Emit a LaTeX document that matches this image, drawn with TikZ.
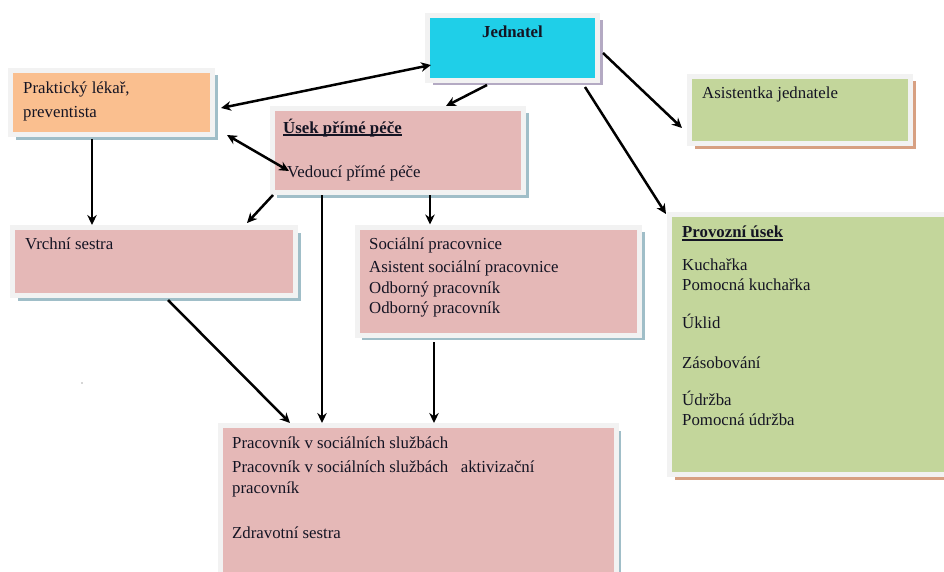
\documentclass[tikz,border=0pt]{standalone}
\usepackage{fontspec}
\setmainfont{Liberation Serif}
\usetikzlibrary{arrows.meta,calc,shadows}
\definecolor{cyanf}{RGB}{31,207,232}
\definecolor{orangef}{RGB}{250,191,143}
\definecolor{pinkf}{RGB}{229,184,183}
\definecolor{greenf}{RGB}{195,214,155}
\definecolor{bordc}{RGB}{242,242,242}
\definecolor{shblue}{RGB}{160,190,200}
\definecolor{shpurple}{RGB}{180,170,195}
\definecolor{shtan}{RGB}{215,160,130}
\definecolor{txtc}{RGB}{20,20,35}
\newcommand\hul[1]{\setbox0\hbox{#1}\rlap{\rule[-3pt]{\wd0}{2pt}}\box0}
\begin{document}
\begin{tikzpicture}[x=1pt,y=-1pt,
  orgbox/.style 2 args={draw=bordc, line width=5pt, fill=#1, inner sep=0pt,
     drop shadow={shadow xshift=5pt, shadow yshift=-5pt, fill=#2, opacity=1}},
  txt/.style={anchor=base west, inner sep=0pt, text=txtc, font=\fontsize{16.8}{20}\selectfont},
  arr/.style={line width=2.5pt, -{Stealth[length=10pt,width=9.5pt]}},
  darr/.style={line width=2.5pt, {Stealth[length=10pt,width=9.5pt]}-{Stealth[length=10pt,width=9.5pt]}}]
\useasboundingbox (0,0) rectangle (944,572);
\clip (0,0) rectangle (944,572);

% boxes
\node[orgbox={cyanf}{shpurple}, minimum width=170pt, minimum height=65pt] (jed) at (512.5,48) {};
\node[orgbox={orangef}{shblue}, minimum width=202pt, minimum height=64.5pt] (pl) at (111.5,102.75) {};
\node[orgbox={pinkf}{shblue}, minimum width=251.5pt, minimum height=84pt] (up) at (397.75,150.5) {};
\node[orgbox={greenf}{shtan}, minimum width=221pt, minimum height=67.5pt] (as) at (800,110.25) {};
\node[orgbox={greenf}{shtan}, minimum width=280.5pt, minimum height=260pt] (pr) at (809.75,344.5) {};
\node[orgbox={pinkf}{shblue}, minimum width=282.5pt, minimum height=108pt] (so) at (498.25,281) {};
\node[orgbox={pinkf}{shblue}, minimum width=396pt, minimum height=154.5pt] (pc) at (418,502.75) {};
\node[orgbox={pinkf}{shblue}, minimum width=283pt, minimum height=68pt] (vs) at (154,261.5) {};

% texts
\node[txt, anchor=base] (tjed) at (512.5,37.5) {\bfseries Jednatel};
\node[txt] (tpl1) at (23,93.5) {Praktický lékař,};
\node[txt] (tpl2) at (23,117.5) {preventista};
\node[txt] (tup1) at (283,133.5) {\bfseries\hul{Úsek přímé péče}};
\node[txt] (tup2) at (287,177.5) {Vedoucí přímé péče};
\node[txt] (tas) at (702,98.5) {Asistentka jednatele};
\node[txt] (tpr1) at (682,237.5) {\bfseries\hul{Provozní úsek}};
\node[txt] (tpr2) at (682,270.5) {Kuchařka};
\node[txt] (tpr3) at (682,290.5) {Pomocná kuchařka};
\node[txt] (tpr4) at (682,328.5) {Úklid};
\node[txt] (tpr5) at (682,368.5) {Zásobování};
\node[txt] (tpr6) at (682,405.5) {Údržba};
\node[txt] (tpr7) at (682,425.5) {Pomocná údržba};
\node[txt] (tso1) at (369,249.5) {Sociální pracovnice};
\node[txt] (tso2) at (369,272.5) {Asistent sociální pracovnice};
\node[txt] (tso3) at (369,293.5) {Odborný pracovník};
\node[txt] (tso4) at (369,313.5) {Odborný pracovník};
\node[txt] (tvs) at (25,249.5) {Vrchní sestra};
\node[txt] (tpc1) at (232,448.5) {Pracovník v sociálních službách};
\node[txt] (tpc2) at (232,472.5) {Pracovník v sociálních službách\ \ \ aktivizační};
\node[txt] (tpc3) at (232,493.5) {pracovník};
\node[txt] (tpc4) at (232,538.5) {Zdravotní sestra};

% stray dot
\fill[black!70] (82,383) circle (0.6);

% connectors
\draw[darr] ($(pl.north east)+(6,40)$) -- ($(jed.north west)+(6,52)$);
\draw[arr] ($(jed.south west)+(62,2)$) -- ($(up.north west)+(176.5,0)$);
\draw[darr] ($(pl.south east)+(12,-2.5)$) -- ($(up.north west)+(19.5,65)$);
\draw[arr] ($(jed.north east)+(3,40)$) -- ($(as.south west)+(-5,-18.5)$);
\draw[arr] ($(jed.south east)+(-15,4)$) -- ($(pr.north west)+(-1,2)$);
\draw[arr] ($(pl.south west)+(84,1.5)$) -- ($(vs.north west)+(82,0)$);
\draw[arr] ($(up.south west)+(3.5,0)$) -- ($(vs.north east)+(-51,-2)$);
\draw[arr] ($(up.south west)+(160.5,0)$) -- ($(so.north west)+(75.5,0)$);
\draw[arr] ($(up.south west)+(52.5,0)$) -- ($(pc.north west)+(104.5,0)$);
\draw[arr] ($(vs.south west)+(158,2)$) -- ($(pc.north west)+(72.5,0)$);
\draw[arr] ($(so.south west)+(79.5,4.5)$) -- ($(pc.north west)+(216.5,0)$);
\end{tikzpicture}
\end{document}
